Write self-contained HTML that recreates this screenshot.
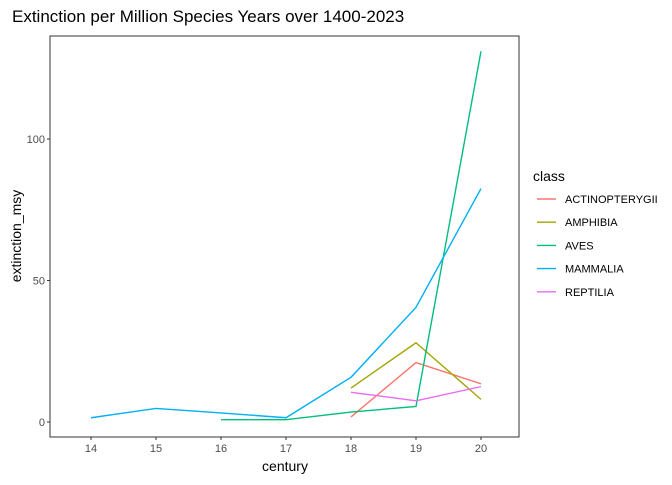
<!DOCTYPE html>
<html><head><meta charset="utf-8"><style>
body{margin:0;background:#fff;font-family:"Liberation Sans",Arial,sans-serif}
svg text{font-family:"Liberation Sans",Arial,sans-serif}
</style></head><body>
<svg id="chart" width="672" height="480" xmlns="http://www.w3.org/2000/svg">
<text x="12" y="22" font-size="17" fill="#000">Extinction per Million Species Years over 1400-2023</text>
<rect x="50" y="36" width="469" height="401" fill="#fff" stroke="#333" stroke-width="1"/>
<g id="axes"></g>
<g id="series"></g>
<text x="285" y="471" font-size="14" text-anchor="middle">century</text>
<text transform="translate(21,236) rotate(-90)" font-size="14" text-anchor="middle">extinction_msy</text>
<g id="legend"></g>
</svg>
<script>
const categories=[14,15,16,17,18,19,20];
const seriesNames=["ACTINOPTERYGII","AMPHIBIA","AVES","MAMMALIA","REPTILIA"];
const colors=["#F8766D","#A3A500","#00BF7D","#00B0F6","#E76BF3"];
const actinopterygii=[null,null,null,null,1.8,21,13.5];
const amphibia=[null,null,null,null,12,28,8];
const aves=[null,null,0.8,0.8,3.5,5.5,131];
const mammalia=[1.5,4.8,3.2,1.5,15.8,40.5,82.5];
const reptilia=[null,null,null,null,10.5,7.5,12.5];
const yTicks=[0,50,100];
const allSeries=[actinopterygii,amphibia,aves,mammalia,reptilia];
const NS="http://www.w3.org/2000/svg";
function x(c){return 91+(c-14)*65;}
function y(v){return 422-v*2.83;}
function mk(t,a,p){const e=document.createElementNS(NS,t);for(const k in a)e.setAttribute(k,a[k]);p.appendChild(e);return e;}
const axes=document.getElementById('axes');
categories.forEach(c=>{
  const t=mk('line',{x1:x(c),x2:x(c),y1:437,y2:440,stroke:'#333'},axes);
  
  
  const l=mk('text',{x:x(c),y:452,'font-size':11,fill:'#4d4d4d','text-anchor':'middle'},axes);
  l.textContent=c;
  
  
});
yTicks.forEach(v=>{
  const t=mk('line',{x1:47,x2:50,y1:y(v),y2:y(v),stroke:'#333'},axes);
  
  
  const l=mk('text',{x:45,y:y(v)+4,'font-size':11,fill:'#4d4d4d','text-anchor':'end'},axes);
  l.textContent=v;
  
  
});
const sg=document.getElementById('series');
allSeries.forEach((s,i)=>{
  let pts=[];
  s.forEach((v,j)=>{if(v!==null)pts.push(x(categories[j])+','+y(v));});
  const p=mk('polyline',{points:pts.join(' '),fill:'none',stroke:colors[i],'stroke-width':1.4},sg);
  
  
});
const lg=document.getElementById('legend');
const lt=mk('text',{x:533,y:181,'font-size':14},lg);
lt.textContent='class';


seriesNames.forEach((n,i)=>{
  const yy=199+i*23.2;
  const k=mk('line',{x1:537,x2:556,y1:yy,y2:yy,stroke:colors[i],'stroke-width':1.4},lg);
  
  
  const t=mk('text',{x:565,y:yy+4,'font-size':11},lg);
  t.textContent=n;
  
  
});
</script>
</body></html>
